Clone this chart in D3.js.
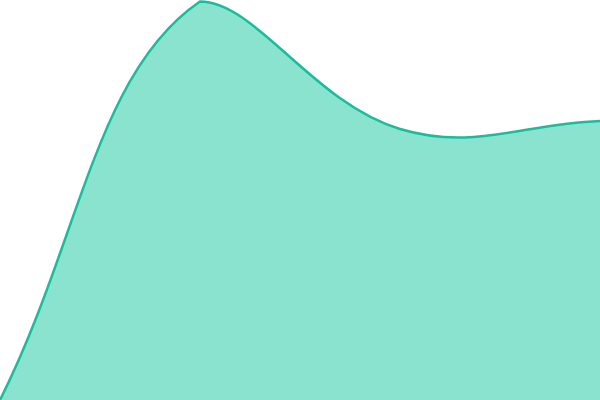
<!DOCTYPE html>
<html>
<head>
<meta charset="utf-8">
<script src="https://cdn.jsdelivr.net/npm/d3@7"></script>
<style>
  html, body { margin: 0; padding: 0; background: #fff; overflow: hidden; }
  svg { display: block; }
</style>
</head>
<body>
<div id="chart"></div>
<script>
(function area() {

  // data
  const categories = ["A", "B", "C", "D"];
  const values = [0, 100, 68, 70];

  let width = 600,
    height = 400,
    margin = ({ top: 1.5, right: 0, bottom: 0, left: 0 });

  const svg = d3.select("#chart")
    .append("svg")
    .attr("width", width)
    .attr("height", height)
    .attr("viewBox", [0, 0, width, height]);

  let x = d3.scalePoint()
    .domain(categories)
    .range([margin.left, width - margin.right]);

  let y = d3.scaleLinear()
    .domain([0, d3.max(values)])
    .range([height - margin.bottom, margin.top]);

  // spline with tension 0.4, control points kept inside the plot box
  function splineCurve(tension, box) {
    function Spline(context) { this._context = context; }
    Spline.prototype = {
      areaStart() { this._line = 0; },
      areaEnd() { this._line = NaN; },
      lineStart() { this._pts = []; },
      point(px, py) { this._pts.push([+px, +py]); },
      lineEnd() {
        let p = this._pts, n = p.length, ctx = this._context;
        if (!n) return;
        if (this._line) ctx.lineTo(p[0][0], p[0][1]);
        else ctx.moveTo(p[0][0], p[0][1]);

        let cap = c => [
          Math.max(box[0], Math.min(box[2], c[0])),
          Math.max(box[1], Math.min(box[3], c[1]))
        ];
        let prevCp = [], nextCp = [];
        for (let i = 0; i < n; i++) {
          let prev = p[i - 1] || p[i], cur = p[i], next = p[i + 1] || p[i];
          let d01 = Math.hypot(cur[0] - prev[0], cur[1] - prev[1]);
          let d12 = Math.hypot(next[0] - cur[0], next[1] - cur[1]);
          let s01 = d01 / (d01 + d12), s12 = d12 / (d01 + d12);
          if (isNaN(s01)) s01 = 0;
          if (isNaN(s12)) s12 = 0;
          let fa = tension * s01, fb = tension * s12;
          prevCp[i] = cap([cur[0] - fa * (next[0] - prev[0]), cur[1] - fa * (next[1] - prev[1])]);
          nextCp[i] = cap([cur[0] + fb * (next[0] - prev[0]), cur[1] + fb * (next[1] - prev[1])]);
        }
        for (let i = 0; i < n - 1; i++) {
          ctx.bezierCurveTo(nextCp[i][0], nextCp[i][1],
            prevCp[i + 1][0], prevCp[i + 1][1], p[i + 1][0], p[i + 1][1]);
        }
        if (this._line || (this._line !== 0 && n === 1)) ctx.closePath();
        this._line = 1 - this._line;
      }
    };
    return context => new Spline(context);
  }

  let curve = splineCurve(0.4, [margin.left, margin.top, width - margin.right, height - margin.bottom]);

  let areaGen = d3.area()
    .x((d, i) => x(categories[i]))
    .y0(y(0))
    .y1(d => y(d))
    .curve(curve);

  let lineGen = d3.line()
    .x((d, i) => x(categories[i]))
    .y(d => y(d))
    .curve(curve);

  svg.append("path")
    .datum(values)
    .attr("fill", "rgba(22,200,160,0.5)")
    .attr("d", areaGen);

  svg.append("path")
    .datum(values)
    .attr("fill", "none")
    .attr("stroke", "#1abc9c")
    .attr("stroke-width", 2.5)
    .attr("d", lineGen);

})();
</script>
</body>
</html>
